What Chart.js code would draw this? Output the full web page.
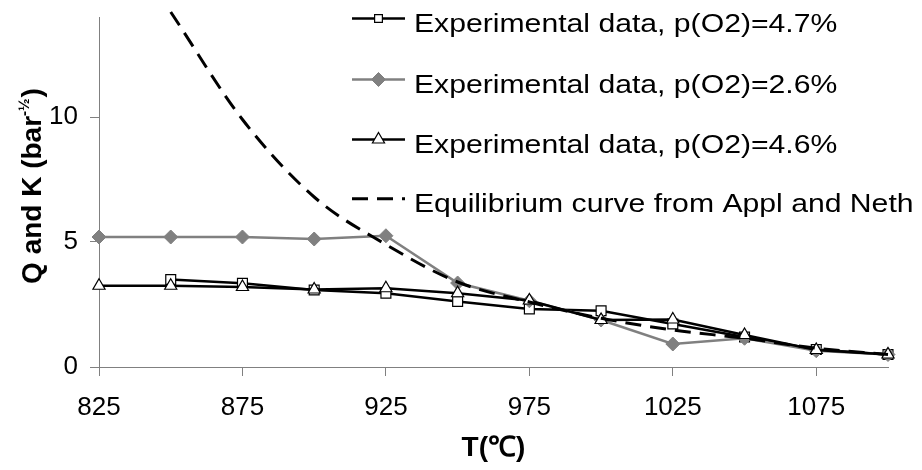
<!DOCTYPE html>
<html><head><meta charset="utf-8">
<script src="https://cdn.jsdelivr.net/npm/chart.js@4/dist/chart.umd.min.js"></script>
<style>html,body{margin:0;padding:0;background:#fff;}#wrap{width:922px;height:470px;}</style>
</head><body><div id="wrap"><canvas id="c" width="922" height="470"></canvas></div>
<script>
const temps = [825, 850, 875, 900, 925, 950, 975, 1000, 1025, 1050, 1075, 1100];
const q47 = [null, 3.5, 3.35, 3.08, 2.95, 2.62, 2.32, 2.25, 1.72, 1.2, 0.7, 0.5];
const q26 = [5.2, 5.2, 5.2, 5.12, 5.25, 3.36, 2.65, 1.88, 0.92, 1.15, 0.65, 0.5];
const q46 = [3.25, 3.25, 3.2, 3.1, 3.15, 2.95, 2.66, 1.88, 1.9, 1.28, 0.68, 0.5];
const eqT = [850, 875, 900, 925, 950, 975, 1000, 1025, 1050, 1075, 1100];
const eqK = [14.2, 9.9, 6.8, 4.9, 3.4, 2.6, 1.95, 1.48, 1.15, 0.75, 0.5];
const xTicks = [825, 875, 925, 975, 1025, 1075];
const yTicks = [0, 5, 10];
const seriesNames = ['Experimental data, p(O2)=4.7%', 'Experimental data, p(O2)=2.6%', 'Experimental data, p(O2)=4.6%', 'Equilibrium curve from Appl and Neth'];
const xTitle = 'T(℃)';
const yTitleMain = 'Q and K (bar';
const yTitleSup = '-½';
const yTitleEnd = ')';

const pts = (xs, ys) => xs.map((x, i) => ({x: x, y: ys[i]}));
const FONT = 'Liberation Sans, Arial, sans-serif';

const datasets = [
  {label: seriesNames[0], data: pts(temps, q47), borderColor: '#000', borderWidth: 2.5, tension: 0,
   pointStyle: 'rect', pointRadius: 7, pointBackgroundColor: '#fff', pointBorderColor: '#000', pointBorderWidth: 1.2, order: 3, clip: false},
  {label: seriesNames[1], data: pts(temps, q26), borderColor: '#808080', borderWidth: 2.5, tension: 0,
   pointStyle: 'rectRot', pointRadius: 7, pointBackgroundColor: '#808080', pointBorderColor: '#808080', pointBorderWidth: 1, order: 2, clip: false},
  {label: seriesNames[2], data: pts(temps, q46), borderColor: '#000', borderWidth: 2.5, tension: 0,
   pointStyle: 'triangle', pointRadius: 7, pointBackgroundColor: '#fff', pointBorderColor: '#000', pointBorderWidth: 1.2, order: 1, clip: false},
  {label: seriesNames[3], data: pts(eqT, eqK), borderColor: '#000', borderWidth: 3, borderDash: [16, 9],
   cubicInterpolationMode: 'monotone', pointRadius: 0, order: 0, clip: false}
];

const decor = {
  id: 'decor',
  afterDraw(chart) {
    const ctx = chart.ctx;
    const ca = chart.chartArea;
    // y title
    ctx.save();
    ctx.fillStyle = '#000';
    ctx.textBaseline = 'alphabetic';
    const big = 'bold 28px ' + FONT, small = 'bold 15px ' + FONT;
    ctx.font = big; const w1 = ctx.measureText(yTitleMain).width; const w3 = ctx.measureText(yTitleEnd).width;
    ctx.font = small; const w2 = ctx.measureText(yTitleSup).width;
    const tot = w1 + w2 + w3;
    ctx.translate(41, 186.5);
    ctx.rotate(-Math.PI / 2);
    let x0 = -tot / 2;
    ctx.textAlign = 'left';
    ctx.font = big; ctx.fillText(yTitleMain, x0, 0);
    ctx.font = small; ctx.fillText(yTitleSup, x0 + w1, -12);
    ctx.font = big; ctx.fillText(yTitleEnd, x0 + w1 + w2 + 1, 0);
    ctx.restore();
    // x title
    ctx.save();
    ctx.fillStyle = '#000';
    ctx.font = 'bold 28px ' + FONT;
    ctx.textAlign = 'center';
    ctx.textBaseline = 'alphabetic';
    ctx.fillText(xTitle, (ca.left + ca.right) / 2, 456);
    ctx.restore();
    // legend
    const rows = [18.5, 79.5, 139.5, 198.7];
    const x1 = 352, x2 = 405, xm = 378.5, xt = 414;
    chart.data.datasets.forEach((d, i) => {
      const y = rows[i];
      ctx.save();
      ctx.strokeStyle = d.borderColor;
      ctx.lineWidth = d.borderWidth;
      ctx.setLineDash(d.borderDash || []);
      ctx.beginPath(); ctx.moveTo(x1, y); ctx.lineTo(x2, y); ctx.stroke();
      ctx.setLineDash([]);
      if (d.pointRadius > 0) {
        ctx.fillStyle = d.pointBackgroundColor;
        ctx.strokeStyle = d.pointBorderColor;
        ctx.lineWidth = d.pointBorderWidth;
        const r = d.pointStyle === 'rect' ? 5.5 : 7;
        Chart.helpers.drawPoint(ctx, {pointStyle: d.pointStyle, radius: r, rotation: 0, borderWidth: d.pointBorderWidth}, xm, y);
      }
      ctx.restore();
      ctx.save();
      ctx.fillStyle = '#000';
      ctx.font = '26px ' + FONT;
      ctx.textAlign = 'left';
      ctx.textBaseline = 'alphabetic';
      ctx.translate(xt, y + 13);
      ctx.scale(1.16, 1);
      ctx.fillText(d.label, 0, 0);
      ctx.restore();
    });
  }
};

new Chart(document.getElementById('c'), {
  type: 'line',
  data: {datasets: datasets},
  options: {
    responsive: false, animation: false, devicePixelRatio: 1,
    layout: {padding: {left: 0, top: 17, right: 34, bottom: 0}},
    plugins: {legend: {display: false}, tooltip: {enabled: false}},
    scales: {
      x: {type: 'linear', min: 825, max: 1100,
        afterBuildTicks: s => { s.ticks = xTicks.map(v => ({value: v})); },
        afterFit: s => { s.height = 103; s.paddingLeft = 0; s.paddingRight = 0; },
        grid: {drawOnChartArea: false, drawTicks: true, tickLength: 9, color: '#808080', lineWidth: 1},
        border: {display: true, color: '#808080', width: 1},
        ticks: {font: {family: FONT, size: 26}, color: '#000', padding: 16, maxRotation: 0, autoSkip: false,
          callback: v => String(v)}
      },
      y: {type: 'linear', min: 0, max: 14,
        afterBuildTicks: s => { s.ticks = yTicks.map(v => ({value: v})); },
        afterFit: s => { s.width = 99; s.paddingTop = 0; s.paddingBottom = 0; },
        grid: {drawOnChartArea: false, drawTicks: true, tickLength: 9, color: '#808080', lineWidth: 1},
        border: {display: true, color: '#808080', width: 1},
        ticks: {font: {family: FONT, size: 26}, color: '#000', padding: 12, callback: v => String(v)}
      }
    }
  },
  plugins: [decor]
});
</script></body></html>
